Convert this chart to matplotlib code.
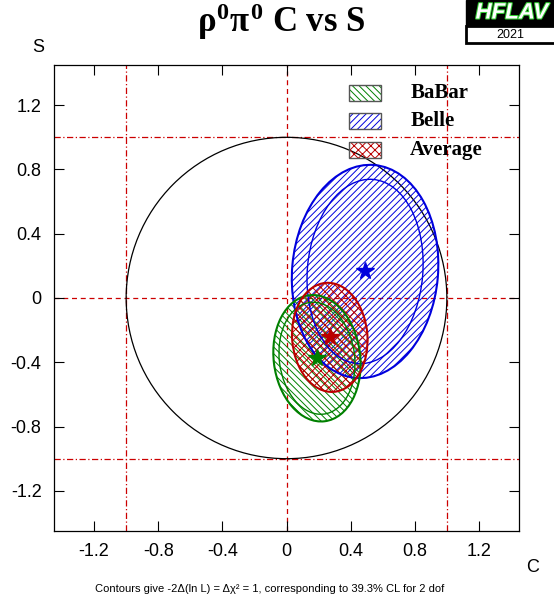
import numpy as np
import matplotlib
matplotlib.use("Agg")
import matplotlib.pyplot as plt
import matplotlib.patheffects as pe
from matplotlib.patches import Ellipse, Circle, Rectangle

plt.rcParams['font.family'] = ['Liberation Sans', 'DejaVu Sans']
plt.rcParams['mathtext.fontset'] = 'custom'
plt.rcParams['mathtext.rm'] = 'Liberation Serif:bold'
plt.rcParams['mathtext.it'] = 'Liberation Serif:bold'
plt.rcParams['mathtext.bf'] = 'Liberation Serif:bold'
plt.rcParams['hatch.linewidth'] = 0.7

# measurements: (C, S) centres, half widths, tilt (deg)
names = ["BaBar", "Belle", "Average"]
colors = ["#008000", "#0000dd", "#bb0000"]
hatches = ["\\\\\\\\\\", "/////", "xxxx"]
cx = [0.19, 0.49, 0.27]
cy = [-0.375, 0.165, -0.245]
outer_w = [0.27, 0.455, 0.235]
outer_h = [0.395, 0.665, 0.34]
inner_w = [0.235, 0.36, None]
inner_h = [0.35, 0.575, None]
tilt = [7, -5, 4]

ticks = [-1.2, -0.8, -0.4, 0, 0.4, 0.8, 1.2]
tick_lbls = ["-1.2", "-0.8", "-0.4", "0", "0.4", "0.8", "1.2"]

fig = plt.figure(figsize=(5.54, 6.01), dpi=100)
ax = fig.add_axes([54/554, 70/601, 465/554, 466/601])
ax.set_xlim(-1.45, 1.45)
ax.set_ylim(-1.45, 1.45)

# physical boundary + guide lines
ax.add_patch(Circle((0, 0), 1.0, fill=False, ec='black', lw=0.9, zorder=2))
red = '#cc0000'
ax.axvline(0, color=red, ls=(0, (4, 3)), lw=0.9, zorder=1)
ax.axhline(0, color=red, ls=(0, (4, 3)), lw=0.9, zorder=1)
for v in (-1, 1):
    ax.axvline(v, color=red, ls=(0, (5, 2, 1, 2)), lw=0.9, zorder=1)
    ax.axhline(v, color=red, ls=(0, (5, 2, 1, 2)), lw=0.9, zorder=1)

order = [1, 0, 2]
for i in order:
    e = Ellipse((cx[i], cy[i]), 2*outer_w[i], 2*outer_h[i], angle=tilt[i],
                fill=False, hatch=hatches[i], ec=colors[i], lw=0, zorder=3)
    ax.add_patch(e)
    ax.add_patch(Ellipse((cx[i], cy[i]), 2*outer_w[i], 2*outer_h[i], angle=tilt[i],
                         fill=False, ec=colors[i], lw=1.5, zorder=4))
    if inner_w[i] is not None:
        ax.add_patch(Ellipse((cx[i], cy[i]), 2*inner_w[i], 2*inner_h[i], angle=tilt[i],
                             fill=False, ec=colors[i], lw=1.0, zorder=4))
    ax.plot(cx[i], cy[i], marker='*', ms=13, color=colors[i], mec=colors[i], zorder=5)

ax.set_xticks(ticks)
ax.set_xticklabels(tick_lbls)
ax.set_yticks(ticks)
ax.set_yticklabels(tick_lbls)
ax.tick_params(direction='in', length=7, width=0.8, top=True, right=True,
               labelsize=13, pad=9)
for s in ax.spines.values():
    s.set_linewidth(0.9)

# legend
lx, lw_, lh = 0.634, 0.069, 0.034
ly = [0.923, 0.863, 0.800]
for k, i in enumerate([0, 1, 2]):
    ax.add_patch(Rectangle((lx, ly[k]), lw_, lh, transform=ax.transAxes,
                           fill=False, hatch=hatches[i], ec=colors[i], lw=0, zorder=6))
    ax.add_patch(Rectangle((lx, ly[k]), lw_, lh, transform=ax.transAxes,
                           fill=False, ec='#555555', lw=1.0, zorder=7))
    ax.text(0.766, ly[k] + lh/2, names[i], transform=ax.transAxes, va='center',
            ha='left', family='Liberation Serif', weight='bold', fontsize=15)

fig.text(38/554, 1 - 48/601, "S", fontsize=13, ha='center', va='center')
fig.text(533/554, 1 - 567/601, "C", fontsize=13, ha='center', va='center')
fig.text(281/554, 1 - 22/601, r'$\rho^{0}\pi^{0}$ C vs S', fontsize=25,
         ha='center', va='center', family='Liberation Serif', weight='bold')
fig.text(270/554, 1 - 589/601,
         'Contours give -2\u0394(ln L) = \u0394\u03c7\u00b2 = 1, corresponding to 39.3% CL for 2 dof',
         fontsize=8, ha='center', va='center')

# HFLAV logo
fig.patches.append(Rectangle((466/554, 1 - 26/601), 90/554, 26/601, transform=fig.transFigure,
                             fc='black', ec='black', lw=1))
fig.patches.append(Rectangle((466/554, 1 - 43/601), 90/554, 17/601, transform=fig.transFigure,
                             fc='white', ec='black', lw=2))
fig.text(512/554, 1 - 13/601, "HFLAV", color='white', fontsize=16, weight='bold',
         style='italic', ha='center', va='center',
         path_effects=[pe.withStroke(linewidth=1.5, foreground='#33cc33')])
fig.text(510/554, 1 - 35/601, "2021", color='black', fontsize=9,
         ha='center', va='center')

fig.savefig("out.png", dpi=100)
